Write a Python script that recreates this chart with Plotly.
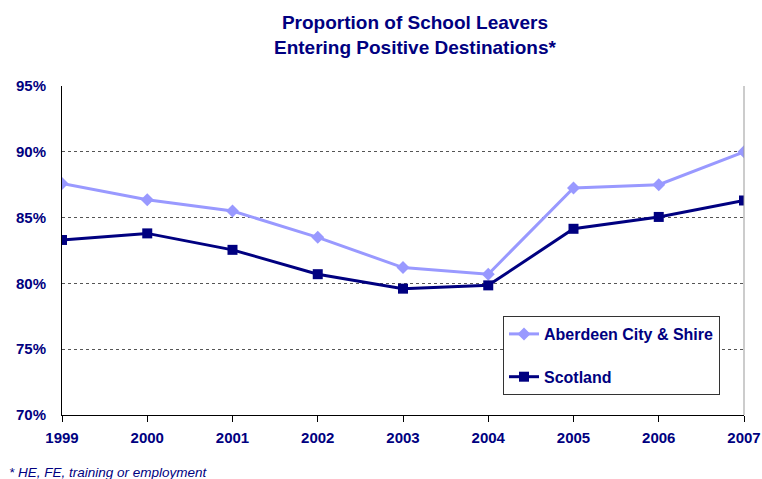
import plotly.graph_objects as go

years = [1999, 2000, 2001, 2002, 2003, 2004, 2005, 2006, 2007]
aberdeen = [87.6, 86.35, 85.5, 83.5, 81.2, 80.7, 87.25, 87.5, 90.0]
scotland = [83.3, 83.8, 82.55, 80.7, 79.6, 79.85, 84.15, 85.05, 86.3]
y_ticks = [70, 75, 80, 85, 90, 95]

NAVY = "#000080"
FONT = "Liberation Sans, Arial, sans-serif"
PW, PH = 682, 329

fig = go.Figure()
fig.add_trace(go.Scatter(
    x=years, y=aberdeen, name="<b>Aberdeen City & Shire</b>", mode="lines+markers",
    line=dict(color="#9999FF", width=3),
    marker=dict(symbol="diamond", size=10, color="#9999FF"),
    legendgroup="a",
))
fig.add_trace(go.Scatter(
    x=years, y=scotland, name="<b>Scotland</b>", mode="lines+markers",
    line=dict(color=NAVY, width=3),
    marker=dict(symbol="square", size=10, color=NAVY),
    legendgroup="b",
))

fig.update_layout(
    width=762, height=479,
    margin=dict(l=62, r=18, t=86, b=64, autoexpand=False),
    paper_bgcolor="white", plot_bgcolor="white",
    font=dict(family=FONT, color=NAVY),
    showlegend=True,
    legend=dict(
        x=(503 - 62) / PW, xanchor="left", y=(415 - 316) / PH, yanchor="top",
        bgcolor="white", bordercolor="#333333", borderwidth=1,
        font=dict(size=16, color=NAVY, family=FONT),
        tracegroupgap=19,
        itemwidth=30,
    ),
    xaxis=dict(
        range=[1999, 2007], tickmode="array", tickvals=years,
        ticktext=[f"<b>{y}</b>" for y in years],
        showgrid=False, zeroline=False, automargin=False,
        showline=True, linecolor="black", linewidth=1,
        ticks="outside", ticklen=6, tickcolor="black",
        ticklabeloverflow="allow", ticklabelstandoff=3,
        tickfont=dict(size=15, color=NAVY, family=FONT),
    ),
    yaxis=dict(
        range=[70, 95], tickmode="array", tickvals=y_ticks,
        ticktext=[f"<b>{v}%</b>" for v in y_ticks],
        showgrid=True, gridcolor="#555555", griddash="dot", gridwidth=1,
        zeroline=False, automargin=False,
        showline=True, linecolor="black", linewidth=1,
        ticks="", ticklabelstandoff=12,
        tickfont=dict(size=15, color=NAVY, family=FONT),
    ),
)

fig.add_shape(type="line", xref="paper", yref="paper", x0=1, x1=1, y0=0, y1=1,
              line=dict(color="#999999", width=1))

fig.add_annotation(
    text="<b>Proportion of School Leavers<br>Entering Positive Destinations*</b>",
    xref="paper", yref="paper", x=(415 - 62) / PW, xanchor="center",
    y=(415 - 10) / PH, yanchor="top", showarrow=False, align="center",
    font=dict(size=19, color=NAVY, family=FONT),
)

fig.add_annotation(
    text="<i>* HE, FE, training or employment</i>", xref="paper", yref="paper",
    x=-55 / PW, xanchor="left", y=-48 / PH, yanchor="top", showarrow=False,
    font=dict(size=13.5, color=NAVY, family=FONT),
)

fig.write_html("out.html")
